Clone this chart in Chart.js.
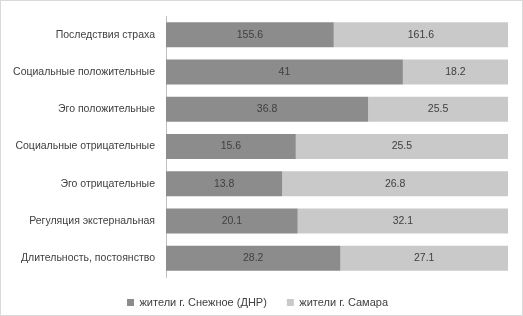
<!DOCTYPE html>
<html>
<head>
<meta charset="utf-8">
<script src="https://cdn.jsdelivr.net/npm/chart.js@4"></script>
<style>
  html, body { margin: 0; padding: 0; background: #fff; }
  #wrap { position: relative; width: 521px; height: 314px; border: 1px solid #d9d9d9; }
</style>
</head>
<body>
<div id="wrap"><canvas id="chart"></canvas></div>
<script>
const categories = [
  'Последствия страха',
  'Социальные положительные',
  'Эго положительные',
  'Социальные отрицательные',
  'Эго отрицательные',
  'Регуляция экстернальная',
  'Длительность, постоянство'
];
const snezhnoe = [155.6, 41, 36.8, 15.6, 13.8, 20.1, 28.2];
const samara = [161.6, 18.2, 25.5, 25.5, 26.8, 32.1, 27.1];
const seriesNames = ['жители г. Снежное (ДНР)', 'жители г. Самара'];

// 100% stacked: share of each row
const pct = (a, b) => a.map((v, i) => v / (v + b[i]) * 100);
const rawValues = [snezhnoe, samara];
const FONT = '"Liberation Sans", Arial, sans-serif';

const valueLabels = {
  id: 'valueLabels',
  afterDatasetsDraw(chart) {
    const ctx = chart.ctx;
    ctx.save();
    ctx.font = '10.5px ' + FONT;
    ctx.fillStyle = '#404040';
    ctx.textAlign = 'center';
    ctx.textBaseline = 'middle';
    chart.data.datasets.forEach((ds, di) => {
      chart.getDatasetMeta(di).data.forEach((bar, i) => {
        const x = (bar.x + bar.base) / 2;
        ctx.fillText(String(rawValues[di][i]), x, bar.y);
      });
    });
    ctx.restore();
  }
};

// trim legend box a little so it sits at the right distance below the plot
const legendFit = {
  id: 'legendFit',
  beforeInit(chart) {
    const orig = chart.legend.fit;
    chart.legend.fit = function () {
      orig.bind(chart.legend)();
      this.height -= 3;
    };
  }
};

new Chart(document.getElementById('chart'), {
  type: 'bar',
  data: {
    labels: categories,
    datasets: [
      {
        label: seriesNames[0],
        data: pct(snezhnoe, samara),
        backgroundColor: '#8c8c8c',
        barPercentage: 1,
        categoryPercentage: 0.67
      },
      {
        label: seriesNames[1],
        data: pct(samara, snezhnoe),
        backgroundColor: '#c9c9c9',
        barPercentage: 1,
        categoryPercentage: 0.67
      }
    ]
  },
  options: {
    indexAxis: 'y',
    responsive: true,
    maintainAspectRatio: false,
    animation: false,
    layout: { padding: { top: 15, right: 14, left: 6, bottom: 0 } },
    scales: {
      x: {
        stacked: true,
        min: 0,
        max: 100,
        display: false
      },
      y: {
        stacked: true,
        grid: { display: false },
        border: { display: true, color: '#bfbfbf' },
        afterFit(scale) { scale.width = 159; },
        ticks: {
          color: '#404040',
          padding: 3,
          font: { size: 10.5, family: FONT }
        }
      }
    },
    plugins: {
      legend: {
        position: 'bottom',
        labels: {
          color: '#404040',
          boxWidth: 7,
          boxHeight: 7,
          padding: 20,
          font: { size: 11, family: FONT }
        }
      },
      tooltip: { enabled: false }
    }
  },
  plugins: [valueLabels, legendFit]
});
</script>
</body>
</html>
